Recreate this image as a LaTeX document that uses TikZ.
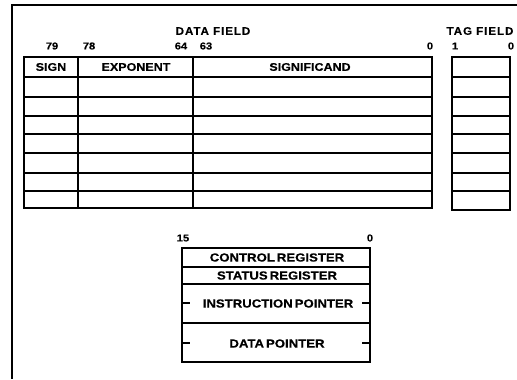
\documentclass[tikz,border=0pt]{standalone}
\usepackage{fontspec}
\setmainfont{Liberation Sans}
\newfontfamily\wideface[LetterSpace=9,FakeStretch=1.05,FakeBold=0.4]{Liberation Sans}
\newfontfamily\broadface[FakeStretch=1.12,WordSpace=0.55,FakeBold=0.4]{Liberation Sans}
\begin{document}
\begin{tikzpicture}[x=1bp,y=-1bp,
  title/.style={font=\wideface\bfseries\fontsize{11}{11}\selectfont, inner sep=0pt},
  bitno/.style={font=\broadface\bfseries\fontsize{10}{10}\selectfont, inner sep=0pt},
  head/.style={font=\broadface\bfseries\fontsize{11.2}{11.2}\selectfont, inner sep=0pt},
  regname/.style={font=\broadface\bfseries\fontsize{11.8}{11.8}\selectfont, inner sep=0pt},
  frame/.style={line width=2bp},
  border/.style={line width=2.3bp},
  rule/.style={line width=1.2bp}]
\useasboundingbox (0,0) rectangle (517,379);

% page frame (top and left edges only)
\draw[frame] (517,5) -- (12,5) -- (12,379);

% titles
\node[title] (datafield) at (213,31) {DATA FIELD};
\node[title] (tagfield) at (480,31) {TAG FIELD};

% bit numbers above the data and tag registers
\node[bitno] (b79) at (52,46) {79};
\node[bitno] (b78) at (89,46) {78};
\node[bitno] (b64) at (181,46) {64};
\node[bitno] (b63) at (206,46) {63};
\node[bitno] (b0) at (430,46) {0};
\node[bitno] (t1) at (455,46) {1};
\node[bitno] (t0) at (511,46) {0};

% data register stack
\foreach \y in {77,97,116,134,153,173,191}
  \draw[rule] (24,\y) -- (432,\y);
\draw[rule] (78,57) -- (78,208);
\draw[rule] (193,57) -- (193,208);
\draw[border] (24,57) rectangle (432,208);
\node[head] (sign) at (51,67) {SIGN};
\node[head] (exponent) at (136,67) {EXPONENT};
\node[head] (significand) at (310,67) {SIGNIFICAND};

% tag word
\foreach \y in {77,97,116,134,153,173,191}
  \draw[rule] (452,\y) -- (510,\y);
\draw[border] (452,57) rectangle (510,210);

% control and status registers
\node[bitno] (c15) at (183,238) {15};
\node[bitno] (c0) at (370,238) {0};
\draw[rule] (182,267) -- (370,267);
\draw[rule] (182,284) -- (370,284);
\draw[rule] (182,323) -- (370,323);
\draw[frame] (182,248) rectangle (370,362);
\foreach \y in {303,343} {
  \draw[rule] (182,\y) -- (190,\y);
  \draw[rule] (362,\y) -- (370,\y);
}
\node[regname] (ctrl) at (277,257.5) {CONTROL REGISTER};
\node[regname] (stat) at (277,275.5) {STATUS REGISTER};
\node[regname] (ip) at (278,303.5) {INSTRUCTION POINTER};
\node[regname] (dp) at (277,343.5) {DATA POINTER};
\end{tikzpicture}
\end{document}
